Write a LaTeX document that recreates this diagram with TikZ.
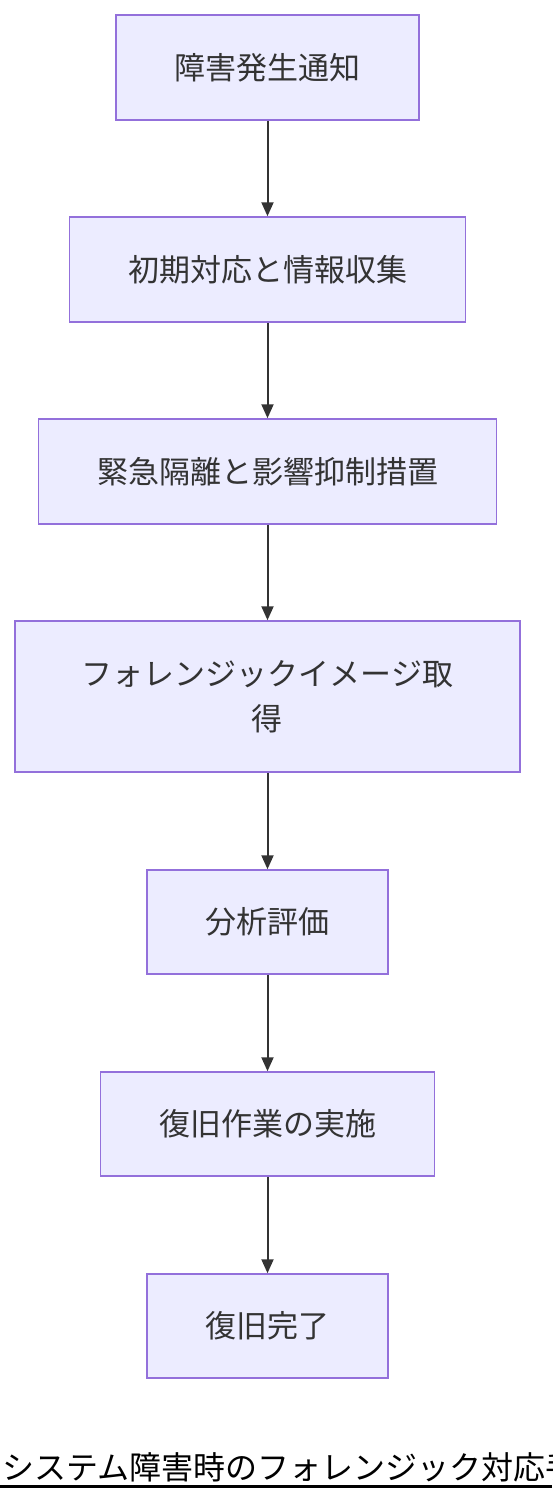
\documentclass[tikz,border=0pt]{standalone}
\usepackage{fontspec}
\newfontfamily\cjk{Noto Sans CJK JP}
\usetikzlibrary{arrows.meta}
\definecolor{boxfill}{HTML}{ECECFF}
\definecolor{boxline}{HTML}{9370DB}
\definecolor{ink}{HTML}{333333}
\tikzset{
  flowbox/.style={draw=boxline, fill=boxfill, line width=1.5pt, rectangle, inner sep=0pt,
    text=ink, font=\cjk\fontsize{31}{45}\selectfont, align=center},
  flowarrow/.style={draw=ink, line width=2pt, -{Triangle[length=14pt,width=12pt]}}
}
\begin{document}
\begin{tikzpicture}[x=1pt,y=1pt]
\useasboundingbox (0,0) rectangle (552,-1500);
\fill[white] (0,0) rectangle (552,-1500);
\clip (0,0) rectangle (552,-1500);
\node[flowbox, minimum width=303pt, minimum height=105pt] (n1) at (267.5,-67.5) {障害発生通知};
\node[flowbox, minimum width=396pt, minimum height=105pt] (n2) at (267.5,-269.5) {初期対応と情報収集};
\node[flowbox, minimum width=458pt, minimum height=105pt] (n3) at (267.5,-471.5) {緊急隔離と影響抑制措置};
\node[flowbox, minimum width=505pt, minimum height=151pt] (n4) at (267.5,-696.5) {フォレンジックイメージ取\\得};
\node[flowbox, minimum width=241pt, minimum height=104pt] (n5) at (267.5,-922) {分析評価};
\node[flowbox, minimum width=334pt, minimum height=104pt] (n6) at (267.5,-1124) {復旧作業の実施};
\node[flowbox, minimum width=241pt, minimum height=104pt] (n7) at (267.5,-1326) {復旧完了};
\draw[flowarrow] (n1) -- (n2);
\draw[flowarrow] (n2) -- (n3);
\draw[flowarrow] (n3) -- (n4);
\draw[flowarrow] (n4) -- (n5);
\draw[flowarrow] (n5) -- (n6);
\draw[flowarrow] (n6) -- (n7);
\node[anchor=west, inner sep=0pt, font=\cjk\fontsize{32}{36}\selectfont, text=black] (title) at (2,-1467) {システム障害時のフォレンジック対応手順};
\coordinate (ul) at (0,-1486);
\coordinate (ur) at (552,-1486);
\draw[black, line width=3pt] (ul) -- (ur);
\end{tikzpicture}
\end{document}
